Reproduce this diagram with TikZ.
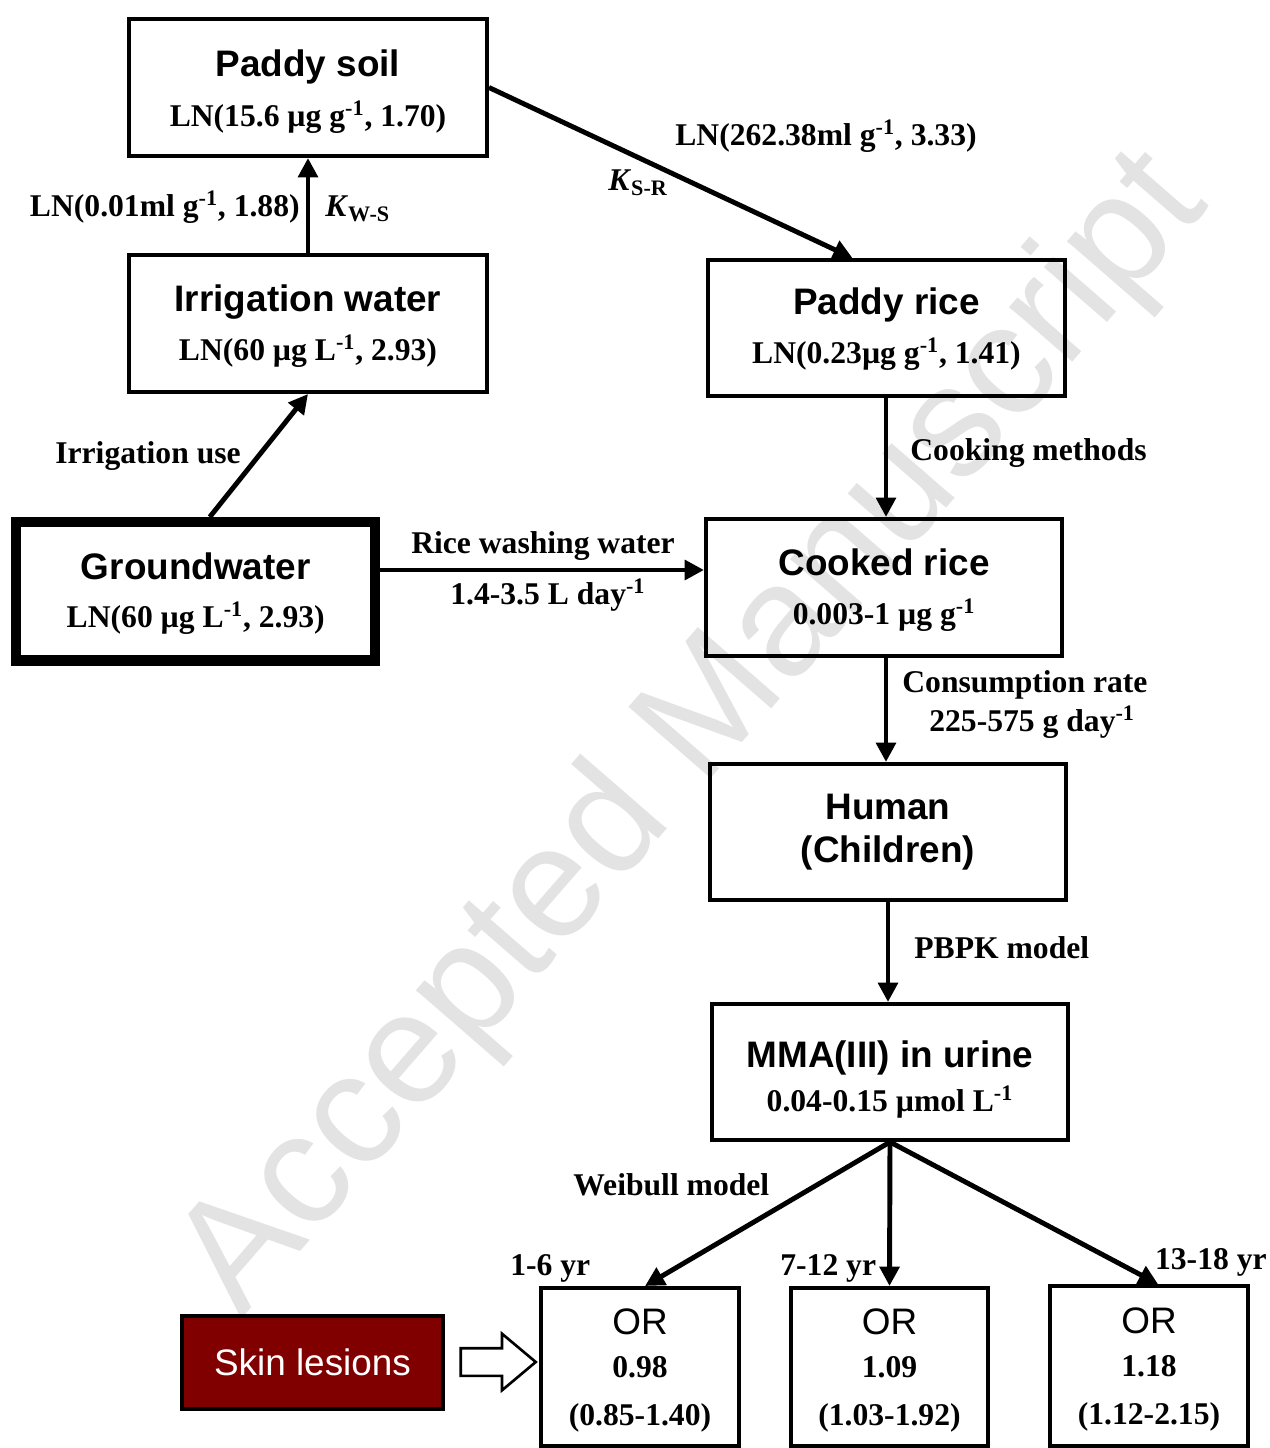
\documentclass[tikz,border=0pt]{standalone}
\usepackage{fontspec}
\setmainfont{Liberation Serif}
\setsansfont{Liberation Sans}
\usetikzlibrary{arrows.meta,calc,shapes.arrows}
\newcommand{\ttl}[1]{{\sffamily\fontsize{21}{25}\selectfont #1}}
\newcommand{\inv}{\textsuperscript{-1}}
\newcommand{\dn}[1]{\rule{0pt}{#1}}
\begin{document}
\begin{tikzpicture}[x=0.02cm,y=-0.02cm,
    box/.style={draw,line width=2.3pt,minimum width=7.16cm,minimum height=2.74cm,
        align=center,font=\bfseries\fontsize{18}{22}\selectfont},
    orbox/.style={box,minimum width=3.96cm,minimum height=3.16cm},
    lbl/.style={inner sep=0pt,font=\bfseries\fontsize{18}{22}\selectfont},
    flow/.style={line width=2.8pt,-{Triangle[length=11pt,width=11pt]}}]
\useasboundingbox (0,0) rectangle (1269,1448);
% watermark
\node[rotate=49,text=black!11,font=\sffamily\fontsize{90}{90}\selectfont] (wm) at (695,735) {Accepted Manuscript};
% boxes
\node[box] (soil) at (308,87.5) {\dn{20.1pt}\ttl{Paddy soil}\\[6.5pt] LN(15.6 µg g\inv, 1.70)};
\node[box] (irrig) at (308,323.5) {\dn{17.8pt}\ttl{Irrigation water}\\[6pt] LN(60 µg L\inv, 2.93)};
\node[box,line width=5.7pt,minimum width=7.19cm,minimum height=2.77cm] (ground) at (195.75,591.25)
    {\dn{17.8pt}\ttl{Groundwater}\\[5pt] LN(60 µg L\inv, 2.93)};
\node[box,minimum width=7.14cm,minimum height=2.72cm] (price) at (886.5,328) {\dn{16.1pt}\ttl{Paddy rice}\\[6pt] LN(0.23µg g\inv, 1.41)};
\node[box,minimum width=7.12cm] (cooked) at (884,587.5) {\dn{18.4pt}\ttl{Cooked rice}\\[5.6pt] 0.003-1 µg g\inv};
\node[box,minimum width=7.12cm,minimum height=2.72cm,font=\sffamily\bfseries\fontsize{21}{24.5}\selectfont] (human) at (888,832)
    {Human\\(Children)};
\node[box,minimum width=7.12cm,minimum height=2.72cm] (mma) at (890,1072) {\dn{23.8pt}\ttl{MMA(III) in urine}\\[3.5pt] 0.04-0.15 µmol L\inv};
\node[orbox] (or1) at (640,1367) {\dn{18.3pt}\ttl{\mdseries OR}\\[3pt] 0.98\\[5pt] (0.85-1.40)};
\node[orbox,minimum width=3.94cm] (or2) at (889.5,1367) {\dn{18.3pt}\ttl{\mdseries OR}\\[3pt] 1.09\\[5pt] (1.03-1.92)};
\node[orbox,minimum height=3.2cm] (or3) at (1149,1366) {\dn{18.3pt}\ttl{\mdseries OR}\\[3pt] 1.18\\[5pt] (1.12-2.15)};
\node[draw,line width=2.8pt,fill=red!50!black,text=white,minimum width=5.22cm,minimum height=1.86cm,
    font=\sffamily\fontsize{21}{25}\selectfont] (skin) at (312.5,1362.5) {Skin lesions};
\node[single arrow,draw,line width=1.5pt,fill=white,minimum height=1.5cm,minimum width=1.1cm,
    inner sep=0.25cm,single arrow head extend=0.29cm,single arrow tip angle=80] (hollow) at (490,1362) {};
% connectors
\coordinate (wash) at (380,570);
\coordinate (riceline) at (886,0);
\coordinate (urineline) at (888,0);
\draw[flow] (irrig.north) -- (soil.south);
\draw[flow] ($(ground.north)+(14,0)$) -- (irrig.south);
\draw[flow] (soil.east) -- ($(price.north)+(-34,0)$);
\draw[flow] (price.south -| riceline) -- (cooked.north -| riceline);
\draw[flow] (ground.east |- wash) -- (cooked.west |- wash);
\draw[flow] (cooked.south -| riceline) -- (human.north -| riceline);
\draw[flow] (human.south -| urineline) -- (mma.north -| urineline);
\draw[flow] (mma.south) -- ($(or1.north)+(5,0)$);
\draw[flow] (mma.south) -- (or2.north);
\draw[flow] (mma.south) -- ($(or3.north)+(9,0)$);
% labels
\node[lbl,anchor=east] (kwsval) at (300,207) {LN(0.01ml g\inv, 1.88)};
\node[lbl,anchor=west] (kws) at (325,209) {\textit{K}\textsubscript{W-S}};
\node[lbl,anchor=west] (ksrval) at (675,136) {LN(262.38ml g\inv, 3.33)};
\node[lbl,anchor=west] (ksr) at (608,183) {\textit{K}\textsubscript{S-R}};
\node[lbl,anchor=west] (iruse) at (55,456) {Irrigation use};
\node[lbl,anchor=west] (cook) at (910,453) {Cooking methods};
\node[lbl] (washlbl) at (543,546) {Rice washing water};
\node[lbl,anchor=west] (washval) at (450,595) {1.4-3.5 L day\inv};
\node[lbl,anchor=west] (cons) at (902,685) {Consumption rate};
\node[lbl,anchor=west] (consval) at (929,722) {225-575 g day\inv};
\node[lbl,anchor=west] (pbpk) at (914,948) {PBPK model};
\node[lbl,anchor=west] (weib) at (573,1185) {Weibull model};
\node[lbl,anchor=west] (age1) at (510,1268) {1-6 yr};
\node[lbl,anchor=west] (age2) at (780,1268) {7-12 yr};
\node[lbl,anchor=east] (age3) at (1267,1262) {13-18 yr};
\end{tikzpicture}
\end{document}
